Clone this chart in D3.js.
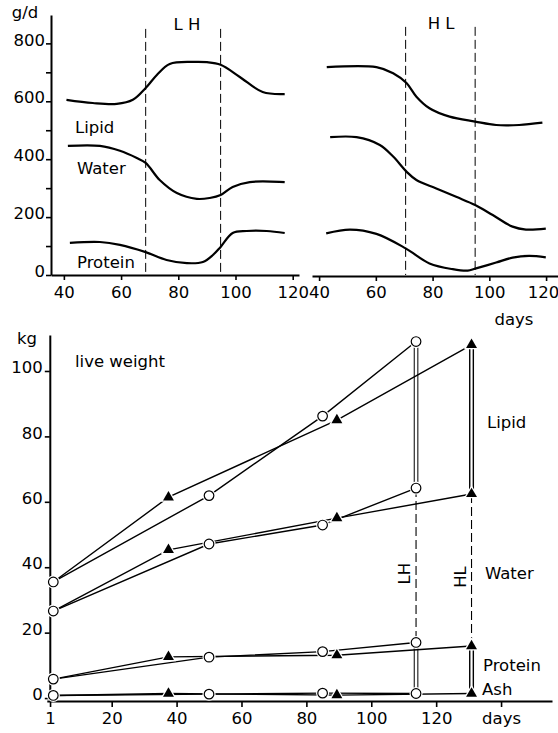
<!DOCTYPE html>
<html>
<head>
<meta charset="utf-8">
<script src="https://cdn.jsdelivr.net/npm/d3@7"></script>
<style>
  body { margin: 0; background: #fff; }
  svg { display: block; }
  text { font-family: "DejaVu Sans", sans-serif; font-size: 16.5px; fill: #000; }
</style>
</head>
<body>
<svg id="chart" width="558" height="733"></svg>
<script>
// top panels, g/d against days
var dayTicks = [40, 60, 80, 100, 120]
var gdTicks = [0, 100, 200, 300, 400, 500, 600, 700, 800]
var gdLabels = [0, 200, 400, 600, 800]

var lhLipidDay = [40.9, 50.1, 58.5, 64.1, 68.6, 72.5, 77.0, 85.1, 90.0, 94.8, 101.5, 109.5, 117.2]
var lhLipid = [605, 594, 591, 605, 646, 691, 729, 736, 735, 726, 684, 632, 625]
var lhWaterDay = [41.4, 52.6, 59.6, 65.5, 68.6, 73.5, 79.5, 86.5, 91.0, 94.8, 99.0, 105.0, 117.2]
var lhWater = [446, 446, 429, 404, 387, 328, 283, 263, 266, 276, 304, 321, 321]
var lhProteinDay = [42.1, 52.6, 59.6, 68.6, 75.9, 83.0, 88.6, 92.1, 94.8, 99.0, 103.9, 110.9, 117.2]
var lhProtein = [111, 114, 104, 79, 52, 41, 45, 69, 97, 145, 152, 152, 145]
var lhBreaks = [68.6, 94.8]

var hlLipidDay = [42.7, 60.2, 66.1, 70.8, 74.3, 78.9, 86.0, 95.0, 102.4, 110.5, 118.7]
var hlLipid = [718, 718, 697, 663, 616, 576, 547, 530, 518, 518, 526]
var hlWaterDay = [43.9, 53.2, 61.4, 66.1, 70.8, 74.3, 81.3, 88.3, 95.0, 101.2, 108.2, 112.9, 119.9]
var hlWater = [476, 476, 449, 409, 357, 328, 299, 270, 242, 207, 167, 157, 160]
var hlProteinDay = [42.5, 50.9, 60.2, 70.5, 78.9, 87.1, 92.4, 95.0, 102.4, 108.2, 114.0, 119.9]
var hlProtein = [144, 157, 142, 92, 40, 20, 15, 22, 43, 60, 66, 61]
var hlBreaks = [70.5, 95.0]

// bottom panel, cumulative kg against days
var kgTicks = [0, 20, 40, 60, 80, 100]
var bDayTicks = [1, 20, 40, 60, 80, 100, 120, 140]

var lhDay = [2, 50, 85, 113.8]
var lhLive = [35.5, 61.9, 86.2, 109.0]
var lhWaterCum = [26.6, 47.1, 52.9, 64.2]
var lhProteinCum = [5.8, 12.5, 14.2, 17.0]
var lhAsh = [0.8, 1.2, 1.5, 1.4]

var hlDay = [2, 37.5, 89.4, 130.9]
var hlLive = [35.5, 61.4, 85.0, 108.0]
var hlWaterCum = [26.6, 45.3, 55.0, 62.4]
var hlProteinCum = [5.8, 12.6, 13.1, 15.9]
var hlAsh = [0.8, 1.4, 0.9, 1.4]

var svg = d3.select('#chart')

var xL = d3.scaleLinear().domain([35.5, 122.2]).range([51, 299])
var xR = d3.scaleLinear().domain([37.5, 124.2]).range([312, 558])
var yT = d3.scaleLinear().domain([0, 898]).range([275, 15])

var xB = d3.scaleLinear().domain([0, 155.7]).range([46.8, 552])
var yB = d3.scaleLinear().domain([-0.9, 111]).range([701, 335])

function styleAxis(g) {
    g.select('.domain').attr('stroke', '#000').attr('stroke-width', 2)
    g.selectAll('.tick line').attr('stroke', '#000').attr('stroke-width', 1.6)
    g.selectAll('.tick text').attr('font-family', '"DejaVu Sans", sans-serif').attr('font-size', 16).attr('fill', '#000')
}

// top-left axes
var gx1 = svg.append('g').attr('transform', 'translate(0,' + yT(0) + ')')
    .call(d3.axisBottom(xL).tickValues(dayTicks).tickSize(5).tickSizeOuter(0).tickPadding(6))
styleAxis(gx1)
var gx2 = svg.append('g').attr('transform', 'translate(0,' + (yT(0) + 1) + ')')
    .call(d3.axisBottom(xR).tickValues(dayTicks).tickSize(5).tickSizeOuter(0).tickPadding(5))
styleAxis(gx2)
gx2.selectAll('.tick text').filter(d => d == 120).attr('dx', -3)

var gy1 = svg.append('g').attr('transform', 'translate(' + xL.range()[0] + ',0)')
    .call(d3.axisLeft(yT).tickValues(gdTicks).tickSize(5).tickSizeOuter(0)
        .tickFormat(function(d) { return gdLabels.indexOf(d) >= 0 ? d : '' }))
styleAxis(gy1)
gy1.selectAll('.tick text').attr('dy', '0.1em').attr('x', -6)

svg.append('text').attr('x', 25).attr('y', 18).attr('text-anchor', 'middle').text('g/d')
svg.append('text').attr('x', 514).attr('y', 325).attr('text-anchor', 'middle').text('days')

// dashed breaks
svg.selectAll('.lhbreak').data(lhBreaks).enter().append('line')
    .attr('x1', d => xL(d)).attr('x2', d => xL(d))
    .attr('y1', yT(850)).attr('y2', yT(0))
    .attr('stroke', '#000').attr('stroke-width', 1).attr('stroke-dasharray', '9,4')
svg.selectAll('.hlbreak').data(hlBreaks).enter().append('line')
    .attr('x1', d => xR(d)).attr('x2', d => xR(d))
    .attr('y1', yT(857)).attr('y2', yT(0))
    .attr('stroke', '#000').attr('stroke-width', 1).attr('stroke-dasharray', '9,4')

svg.append('text').attr('x', xL(83)).attr('y', 30).attr('text-anchor', 'middle').text('L H')
svg.append('text').attr('x', xR(83)).attr('y', 29).attr('text-anchor', 'middle').text('H L')

function curve(x, days, vals) {
    var pts = days.map((d, i) => [d, vals[i]])
    var line = d3.line().x(d => x(d[0])).y(d => yT(d[1])).curve(d3.curveCatmullRom.alpha(0.5))
    svg.append('path').attr('d', line(pts))
        .attr('fill', 'none').attr('stroke', '#000').attr('stroke-width', 2.2)
}
curve(xL, lhLipidDay, lhLipid)
curve(xL, lhWaterDay, lhWater)
curve(xL, lhProteinDay, lhProtein)
curve(xR, hlLipidDay, hlLipid)
curve(xR, hlWaterDay, hlWater)
curve(xR, hlProteinDay, hlProtein)

svg.append('text').attr('x', 75).attr('y', 133).text('Lipid')
svg.append('text').attr('x', 77).attr('y', 174).text('Water')
svg.append('text').attr('x', 77).attr('y', 268).text('Protein')

// bottom axes
var gx3 = svg.append('g').attr('transform', 'translate(0,' + yB.range()[0] + ')')
    .call(d3.axisBottom(xB).tickValues(bDayTicks).tickSize(6).tickSizeOuter(0).tickPadding(5)
        .tickFormat(function(d) { return d == 140 ? 'days' : d }))
styleAxis(gx3)

var gy3 = svg.append('g').attr('transform', 'translate(' + xB.range()[0] + ',0)')
    .call(d3.axisLeft(yB).tickValues(kgTicks).tickSize(5).tickSizeOuter(0))
styleAxis(gy3)
gy3.select('.domain').attr('transform', 'translate(3,0)')
gy3.selectAll('.tick line').attr('transform', 'translate(3,0)')
gy3.selectAll('.tick text').attr('dy', '0.1em').attr('x', -4)

svg.append('text').attr('x', 27).attr('y', 344).attr('text-anchor', 'middle').text('kg')
svg.append('text').attr('x', 75).attr('y', 367).text('live weight')

var lhSeries = [lhLive, lhWaterCum, lhProteinCum, lhAsh]
var hlSeries = [hlLive, hlWaterCum, hlProteinCum, hlAsh]

var kgLine = d3.line().x(d => xB(d[0])).y(d => yB(d[1]))

lhSeries.forEach(function(vals) {
    svg.append('path').attr('d', kgLine(lhDay.map((d, i) => [d, vals[i]])))
        .attr('fill', 'none').attr('stroke', '#000').attr('stroke-width', 1.4)
})
hlSeries.forEach(function(vals, k) {
    // HL animals start from the same first weighing
    var pts = hlDay.map((d, i) => [d, vals[i]])
    pts[0] = [lhDay[0], lhSeries[k][0]]
    svg.append('path').attr('d', kgLine(pts))
        .attr('fill', 'none').attr('stroke', '#000').attr('stroke-width', 1.4)
})

// final composition: double lines for lipid and protein, dashed for water
function column(day, vals, w) {
    var x = xB(day)
    var pairs = [[vals[0], vals[1]], [vals[2], vals[3]]]
    pairs.forEach(function(p) {
        [-1.8, 1.8].forEach(function(off) {
            svg.append('line').attr('x1', x + off).attr('x2', x + off)
                .attr('y1', yB(p[0])).attr('y2', yB(p[1]))
                .attr('stroke', '#000').attr('stroke-width', w)
        })
    })
    svg.append('line').attr('x1', x).attr('x2', x)
        .attr('y1', yB(vals[1])).attr('y2', yB(vals[2]))
        .attr('stroke', '#000').attr('stroke-width', 1.1).attr('stroke-dasharray', '9,4')
}
var last = lhDay.length - 1
column(lhDay[last], lhSeries.map(s => s[last]), 1)
column(hlDay[last], hlSeries.map(s => s[last]), 1.4)

svg.append('text').attr('transform', 'translate(' + (xB(lhDay[last]) - 6) + ',' + yB(38) + ') rotate(-90)')
    .attr('text-anchor', 'middle').text('LH')
svg.append('text').attr('transform', 'translate(' + (xB(hlDay[last]) - 6) + ',' + yB(37) + ') rotate(-90)')
    .attr('text-anchor', 'middle').text('HL')

// markers
var tri = d3.symbol().type(d3.symbolTriangle).size(52)
hlSeries.forEach(function(vals) {
    svg.selectAll(null).data(hlDay.slice(1).map((d, i) => [d, vals[i + 1]])).enter().append('path')
        .attr('d', tri)
        .attr('transform', d => 'translate(' + xB(d[0]) + ',' + yB(d[1]) + ')')
        .attr('fill', '#000').attr('stroke', '#fff').attr('stroke-width', 2.5)
        .attr('paint-order', 'stroke')
})
lhSeries.forEach(function(vals) {
    var pts = lhDay.map((d, i) => [d, vals[i]])
    svg.selectAll(null).data(pts).enter().append('circle')
        .attr('cx', d => xB(d[0])).attr('cy', d => yB(d[1])).attr('r', 6.5)
        .attr('fill', '#fff')
    svg.selectAll(null).data(pts).enter().append('circle')
        .attr('cx', d => xB(d[0])).attr('cy', d => yB(d[1])).attr('r', 4.8)
        .attr('fill', '#fff').attr('stroke', '#000').attr('stroke-width', 1.2)
})

svg.append('text').attr('x', 487).attr('y', 428).text('Lipid')
svg.append('text').attr('x', 485).attr('y', 579).text('Water')
svg.append('text').attr('x', 483).attr('y', 671).text('Protein')
svg.append('text').attr('x', 482).attr('y', 695).text('Ash')
</script>
</body>
</html>
